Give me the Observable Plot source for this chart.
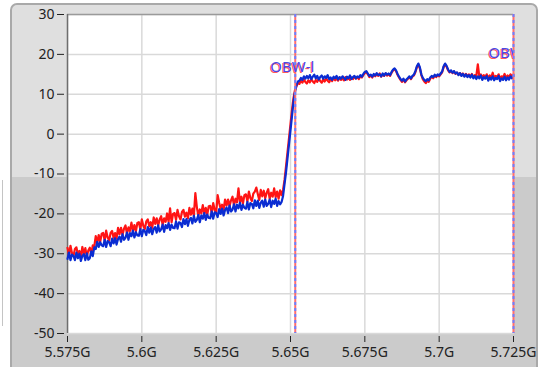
<!DOCTYPE html>
<html>
<head>
<meta charset="utf-8">
<script src="https://cdn.jsdelivr.net/npm/d3@7"></script>
<script src="https://cdn.jsdelivr.net/npm/@observablehq/plot@0.6"></script>
<style>
  html, body { margin: 0; padding: 0; background: #ffffff; }
  #wrap { position: relative; width: 544px; height: 367px; overflow: hidden; background: #ffffff; }
  #panel { position: absolute; left: 10px; top: 3px; width: 524px; height: 390px;
           border: 2px solid #a9a9a9; border-radius: 7px;
           background: linear-gradient(to bottom, #dfdfdf 0px, #dfdfdf 172px, #cbcbcb 172px, #cbcbcb 100%); }
  #sideline { position: absolute; left: 2px; top: 180px; width: 1px; height: 146px; background: #c4c4c4; }
  #chart { position: absolute; left: 0; top: 0; }
</style>
</head>
<body>
<div id="wrap">
  <div id="sideline"></div>
  <div id="panel"></div>
  <div id="chart"></div>
</div>
<script>
// Sweep: 5.575 GHz to 5.725 GHz, 0.5 MHz per sample (301 samples)
const freqStart = 5.575;
const freqStep = 0.0005;

// Trace 1 (red), dB
const redValues = [
-28.5,-30.4,-28.0,-29.8,-30.6,-28.8,-28.4,-30.2,-29.3,-30.8,-28.3,-30.0,-28.6,-30.6,-29.2,-28.5,-30.1,-27.9,-28.2,-25.6,-27.3,-25.3,-27.0,-25.0,
-24.8,-26.7,-24.2,-25.9,-26.6,-24.8,-24.3,-26.0,-24.8,-26.2,-23.5,-25.1,-23.5,-25.3,-23.7,-22.9,-25.0,-23.4,-24.3,-22.2,-24.3,-22.8,-24.4,-22.3,
-22.1,-23.9,-21.4,-23.0,-23.8,-21.9,-21.4,-23.1,-22.1,-23.5,-20.9,-22.5,-21.1,-22.9,-21.4,-20.6,-22.8,-21.1,-22.0,-19.9,-22.0,-18.6,-22.1,-20.0,
-19.8,-21.5,-19.0,-20.6,-21.4,-19.5,-19.0,-20.7,-19.7,-21.1,-18.5,-20.2,-18.7,-20.5,-14.8,-18.3,-20.5,-18.9,-19.9,-17.8,-19.9,-18.5,-20.2,-18.1,
-18.0,-19.8,-17.3,-19.0,-19.7,-15.3,-17.2,-18.8,-17.7,-19.0,-16.4,-17.9,-16.4,-18.1,-16.6,-15.7,-17.9,-16.2,-17.1,-13.6,-17.1,-15.7,-17.4,-15.3,
-15.1,-16.9,-14.4,-16.0,-16.8,-14.9,-14.4,-13.4,-15.0,-16.5,-14.0,-15.6,-14.2,-16.1,-14.7,-13.8,-16.2,-14.7,-15.7,-13.6,-15.8,-14.4,-16.2,-14.1,
-15.3,-14.0,-11.5,-8.0,-4.5,-1.0,2.5,6.0,9.0,11.0,12.0,12.8,
12.6,13.4,12.9,13.7,13.1,12.7,13.5,13.0,13.8,13.2,12.8,13.6,13.1,13.9,13.3,12.9,13.7,13.2,14.0,13.4,13.0,13.8,13.3,14.1,
13.5,13.9,13.4,14.2,13.6,14.0,13.5,14.3,13.7,14.1,13.6,14.2,13.8,14.4,13.9,14.3,13.8,14.5,14.2,14.8,15.3,15.6,15.0,14.3,
14.8,14.2,14.9,14.5,15.1,14.6,15.2,14.4,15.0,14.6,15.2,14.7,15.0,14.6,15.4,16.0,16.3,15.8,14.9,14.2,13.6,13.1,13.7,13.0,
13.5,13.9,14.3,13.8,14.4,14.7,15.5,16.8,17.4,16.5,14.8,13.8,13.2,12.8,13.4,13.1,13.9,14.4,14.0,14.7,14.3,14.8,14.5,15.0,
15.5,16.8,17.5,16.9,16.0,15.5,15.8,15.3,15.7,15.1,15.4,14.9,15.3,14.7,15.2,14.6,15.1,14.5,15.0,14.4,15.1,14.3,14.8,14.6,
17.5,14.5,15.0,14.2,14.8,14.3,15.0,14.1,14.7,14.2,15.4,14.0,14.6,14.3,15.0,13.9,14.5,14.2,15.1,14.0,14.7,14.3,15.0,14.5,15.0
];

// Trace 2 (blue), dB
const blueValues = [
-31.3,-29.7,-31.6,-30.2,-30.5,-31.6,-29.7,-31.1,-30.0,-31.8,-30.5,-30.1,-31.6,-29.9,-31.5,-31.1,-29.4,-30.6,-28.4,-28.8,-27.0,-28.3,-27.1,-27.9,
-28.1,-26.5,-28.3,-26.8,-27.1,-28.1,-26.2,-27.4,-26.1,-27.7,-26.3,-25.7,-27.0,-25.1,-26.5,-26.0,-24.7,-26.5,-24.8,-25.6,-24.2,-25.9,-24.6,-25.4,
-25.5,-23.8,-25.6,-24.0,-24.3,-25.3,-23.3,-24.7,-23.4,-25.1,-23.8,-23.3,-24.7,-22.9,-24.4,-23.9,-22.7,-24.5,-22.8,-23.6,-22.3,-24.0,-22.7,-23.5,
-23.6,-21.9,-23.7,-22.1,-22.3,-23.3,-21.3,-22.6,-21.3,-23.0,-21.5,-21.0,-22.4,-20.5,-22.0,-21.5,-20.3,-22.1,-20.4,-21.2,-19.8,-21.5,-20.2,-21.0,
-21.1,-19.4,-21.2,-19.6,-19.8,-20.8,-18.8,-20.0,-18.7,-20.4,-19.0,-18.4,-19.8,-17.9,-19.4,-18.9,-17.6,-19.4,-17.7,-18.6,-17.2,-19.0,-17.7,-18.5,
-18.7,-17.0,-18.9,-17.3,-17.5,-18.6,-16.6,-18.0,-16.7,-18.5,-17.2,-16.7,-18.2,-16.4,-18.0,-17.5,-16.4,-18.3,-16.7,-17.5,-16.2,-18.0,-16.8,-17.6,
-17.0,-15.5,-12.5,-9.5,-6.0,-2.5,1.0,4.5,8.0,10.5,12.3,13.2,
13.4,14.1,13.6,14.5,13.9,14.6,14.0,14.8,13.8,14.4,14.9,14.0,14.6,13.7,14.3,14.7,13.9,14.5,14.1,14.8,13.8,14.2,13.6,14.4,
14.0,14.6,13.7,14.3,13.9,14.5,14.1,13.6,14.4,14.0,14.7,13.8,14.3,14.6,14.0,14.5,14.2,14.8,14.4,15.1,15.6,15.8,15.2,14.6,
14.9,14.4,15.1,14.7,15.3,14.8,15.0,14.5,15.2,14.7,15.3,14.9,15.2,14.8,15.6,16.2,16.5,16.0,15.1,14.4,13.8,13.4,13.9,13.2,
13.7,14.1,14.5,14.0,14.6,14.9,15.8,17.0,17.7,16.8,15.0,14.1,13.6,13.3,13.8,13.5,14.2,14.6,14.3,14.9,14.5,15.0,14.7,15.2,
15.7,17.0,17.7,17.1,16.2,15.6,16.0,15.4,15.8,15.2,15.5,14.8,15.3,14.6,15.1,14.4,15.0,14.3,14.8,14.2,14.9,14.0,14.6,13.8,
14.5,14.0,14.7,13.6,14.3,13.9,14.6,13.4,14.2,13.7,14.5,13.5,14.1,13.8,14.6,13.3,14.0,13.6,14.4,13.5,14.2,13.7,14.5,14.0,14.6
];

// Markers (OBW limits)
const markerFreqs = [5.6516, 5.725];
const markerLabels = ["OBW-l", "OBW-r"];
const markerLabelLevels = [16.7, 20.4];

// Axes
const xTickValues = [5.575, 5.6, 5.625, 5.65, 5.675, 5.7, 5.725];
const xTickLabels = ["5.575G", "5.6G", "5.625G", "5.65G", "5.675G", "5.7G", "5.725G"];
const yTickValues = [-50, -40, -30, -20, -10, 0, 10, 20, 30];
const yTickLabels = ["-50", "-40", "-30", "-20", "-10", "0", "10", "20", "30"];

const redData = redValues.map((v, i) => ({f: freqStart + i * freqStep, v}));
const blueData = blueValues.map((v, i) => ({f: freqStart + i * freqStep, v}));
const markerData = markerFreqs.map((f, i) => ({f, label: markerLabels[i], level: markerLabelLevels[i]}));

const chart = Plot.plot({
  width: 544,
  height: 367,
  marginLeft: 67,
  marginRight: 31,
  marginTop: 14,
  marginBottom: 34,
  style: {background: "transparent", fontFamily: "'Noto Sans', sans-serif", fontSize: "14px", color: "#222"},
  x: {domain: [5.575, 5.725], axis: null, label: null},
  y: {domain: [-50, 30], axis: null, label: null},
  marks: [
    Plot.frame({fill: "white", stroke: null}),
    Plot.gridX(xTickValues, {stroke: "#d9d9d9", strokeOpacity: 1, strokeWidth: 1.5}),
    Plot.gridY(yTickValues, {stroke: "#d9d9d9", strokeOpacity: 1, strokeWidth: 1.5}),
    Plot.ruleY([30], {stroke: "#9a9a9a", strokeWidth: 1.5}),
    Plot.ruleX([5.575], {stroke: "#6e6e6e", strokeWidth: 1.5}),
    Plot.line(redData, {x: "f", y: "v", stroke: "#ff1414", strokeWidth: 2.2}),
    Plot.line(blueData, {x: "f", y: "v", stroke: "#0a2cd2", strokeWidth: 2.2}),
    Plot.ruleX(markerData, {x: "f", stroke: "#ff6e6e", strokeWidth: 2}),
    Plot.ruleX(markerData, {x: "f", stroke: "#6c80ff", strokeWidth: 2, strokeDasharray: "3,3"}),
    Plot.text(markerData, {x: "f", y: "level", text: "label", textAnchor: "start", dx: -26, dy: 1, fill: "#ff5a5a", fontSize: 15, clip: true}),
    Plot.text(markerData, {x: "f", y: "level", text: "label", textAnchor: "start", dx: -25, fill: "#4a4ae6", fontSize: 15, clip: true}),
    Plot.axisX({ticks: xTickValues, tickFormat: d => xTickLabels[xTickValues.indexOf(d)], tickSize: 6, tickPadding: 5, fontSize: 14, label: null, dy: 3}),
    Plot.axisY({ticks: yTickValues, tickFormat: d => yTickLabels[yTickValues.indexOf(d)], tickSize: 7, tickPadding: 3, fontSize: 14, label: null, dx: -3})
  ]
});
document.getElementById("chart").appendChild(chart);
</script>
</body>
</html>
